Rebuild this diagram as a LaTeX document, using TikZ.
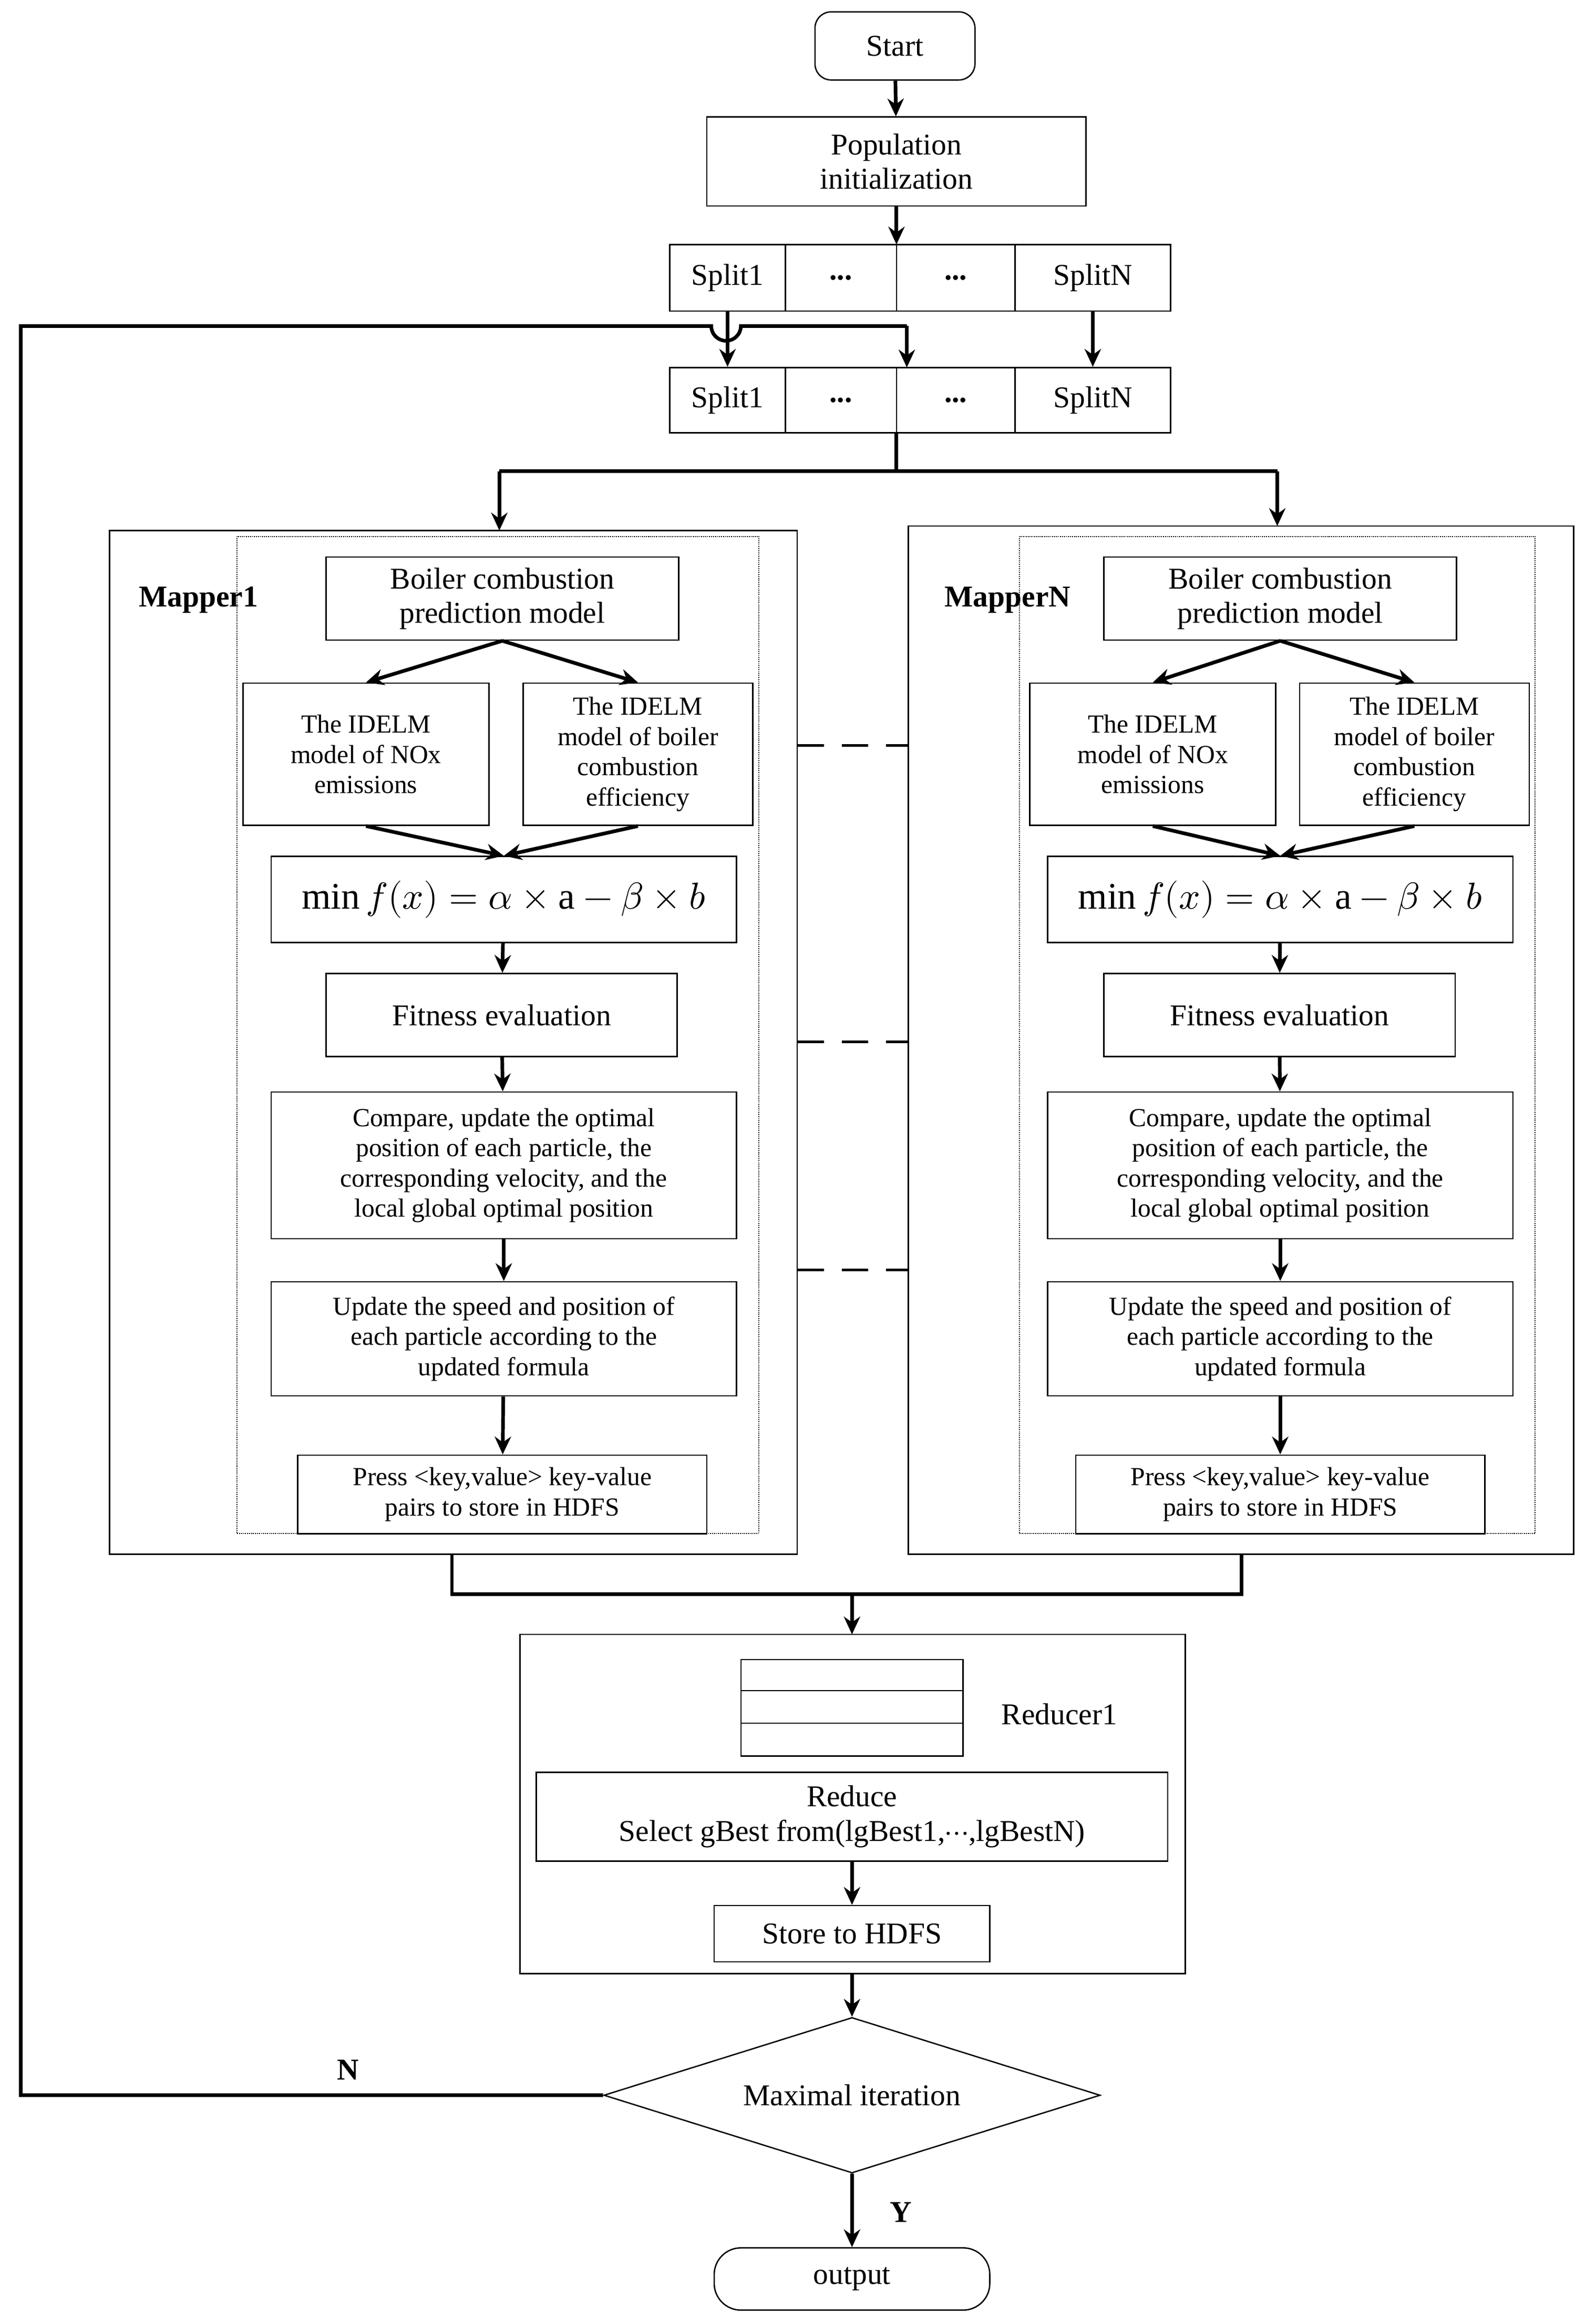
\documentclass[tikz,border=0pt]{standalone}
\usepackage{fontspec}
\usepackage{unicode-math}
\setmainfont{Liberation Serif}
\setmathfont{Latin Modern Math}
\usetikzlibrary{shapes.geometric,arrows.meta}
\newcommand\bx[7][]{\node[box,#1,minimum width={((#5)-(#3))*0.05cm},minimum height={((#6)-(#4))*0.05cm}] (#2) at ({((#3)+(#5))/2},{((#4)+(#6))/2}) {#7};}
\begin{document}
\begin{tikzpicture}[x=0.05cm,y=-0.05cm,
 box/.style={draw,line width=1.3pt,inner sep=0pt,align=center,font=\fontsize{29}{33}\selectfont},
 sm/.style={font=\fontsize{25}{29}\selectfont},
 arr/.style={line width=3.5pt,-{Stealth[length=0.6cm,width=0.55cm]}},
 ln/.style={line width=3.5pt},
 frame/.style={draw,line width=1.3pt}]
\useasboundingbox (0,0) rectangle (1077,1563);
% start
\node[box,rounded corners=0.55cm,minimum width=5.4cm,minimum height=2.3cm] (start) at (604,31) {Start};
\bx{pop}{477}{79}{733}{139}{Population\\initialization}
% split rows
\foreach \r/\ya/\yb in {a/165/210,b/248/292}{
 \bx{s1\r}{452}{\ya}{530}{\yb}{Split1}
 \bx{s2\r}{530}{\ya}{605}{\yb}{\textbf{...}}
 \bx{s3\r}{605}{\ya}{685}{\yb}{\textbf{...}}
 \bx{s4\r}{685}{\ya}{790}{\yb}{SplitN}
}
\draw[arr] (start) -- (pop);
\draw[arr] (pop) -- (605,165);
\draw[arr] (s1a) -- (s1b);
\draw[arr] (s4a) -- (s4b);
% loop
\coordinate (c2) at (14,220);
\coordinate (c3) at (612,220);
\coordinate (c4) at (612,248);
% mappers
\draw[frame] (74,358) rectangle (538,1049);
\draw[frame] (613,355) rectangle (1062,1049);
\draw[line width=0.9pt,densely dotted] (160,362) rectangle (512,1035);
\draw[line width=0.9pt,densely dotted] (688,362) rectangle (1036,1035);
\node[font=\fontsize{29}{33}\selectfont\bfseries] (m1) at (134,405) {Mapper1};
\node[font=\fontsize{29}{33}\selectfont\bfseries] (mn) at (680,405) {MapperN};
\draw[ln] (605,292) -- (605,318);
\draw[ln] (337,318) -- (862,318);
\coordinate (t1) at (337,318); \coordinate (tn) at (862,318);
\draw[arr] (t1) -- (337,358);
\draw[arr] (tn) -- (862,355);
\foreach \p/\d/\e in {L/0/0,R/525/1}{
 \bx{boil\p}{220+\d}{376}{458+\d}{432}{Boiler combustion\\prediction model}
 \bx[sm]{nox\p}{164+\d+6*\e}{461}{330+\d+6*\e}{557}{The IDELM\\model of NOx\\emissions}
 \bx[sm]{eff\p}{353+\d-\e}{461}{508+\d-\e}{557}{The IDELM\\model of boiler\\combustion\\efficiency}
 \bx[font=\fontsize{36}{40}\selectfont]{form\p}{183+\d-\e}{578}{497+\d-\e}{636}{$\min f(x)=\alpha\times\mathrm{a}-\beta\times b$}
 \bx{fit\p}{220+\d}{657}{457+\d}{713}{Fitness evaluation}
 \bx[sm]{cmp\p}{183+\d-\e}{737}{497+\d-\e}{836}{Compare, update the optimal\\position of each particle, the\\corresponding velocity, and the\\local global optimal position}
 \bx[sm]{upd\p}{183+\d-\e}{865}{497+\d-\e}{942}{Update the speed and position of\\each particle according to the\\updated formula}
 \bx[sm]{prs\p}{201+\d}{982}{477+\d}{1035}{Press <key,value> key-value\\pairs to store in HDFS}
 \draw[arr] (boil\p.south) -- (nox\p.north);
 \draw[arr] (boil\p.south) -- (eff\p.north);
 \draw[arr] (nox\p.south) -- (form\p.north);
 \draw[arr] (eff\p.south) -- (form\p.north);
 \draw[arr] (form\p) -- (fit\p);
 \draw[arr] (fit\p) -- (cmp\p);
 \draw[arr] (cmp\p) -- (upd\p);
 \draw[arr] (upd\p) -- (prs\p);
}
\foreach \y in {503,703,857}\draw[line width=2.5pt,dash pattern=on 0.9cm off 0.6cm] (538,\y) -- (613,\y);
% join
\draw[ln] (305,1049) -- (305,1076) -- (838,1076) -- (838,1049);
\coordinate (j) at (575,1076);
\draw[frame] (351,1103) rectangle (800,1332);
\draw[arr] (j) -- (575,1103);
\draw[line width=1.3pt] (500,1120) rectangle (650,1185) (500,1141) -- (650,1141) (500,1163) -- (650,1163);
\node[font=\fontsize{29}{33}\selectfont] (r1) at (715,1157) {Reducer1};
\bx{rdc}{362}{1196}{788}{1256}{Reduce\\Select gBest from(lgBest1,$\cdots$,lgBestN)}
\bx{sto}{482}{1286}{668}{1324}{Store to HDFS}
\draw[arr] (rdc) -- (sto);
\node[diamond,draw,line width=1.3pt,aspect=3.2,inner sep=0pt,minimum width=16.75cm,minimum height=5.25cm,font=\fontsize{29}{33}\selectfont] (dia) at (575,1414) {Maximal iteration};
\coordinate (rb) at (575,1332);
\draw[arr] (rb) -- (dia.north);
\node[box,rounded corners=0.9cm,minimum width=9.3cm,minimum height=2.1cm] (out) at (575,1538) {output};
\draw[arr] (dia.south) -- (out.north);
\node[font=\fontsize{29}{33}\selectfont\bfseries] at (235,1397) {N};
\node[font=\fontsize{29}{33}\selectfont\bfseries] at (608,1493) {Y};
\draw[ln] (dia.west) -| (c2) -- (480,220) arc (180:0:10) -- (c3);
\draw[arr] (c3) -- (c4);
\end{tikzpicture}
\end{document}
